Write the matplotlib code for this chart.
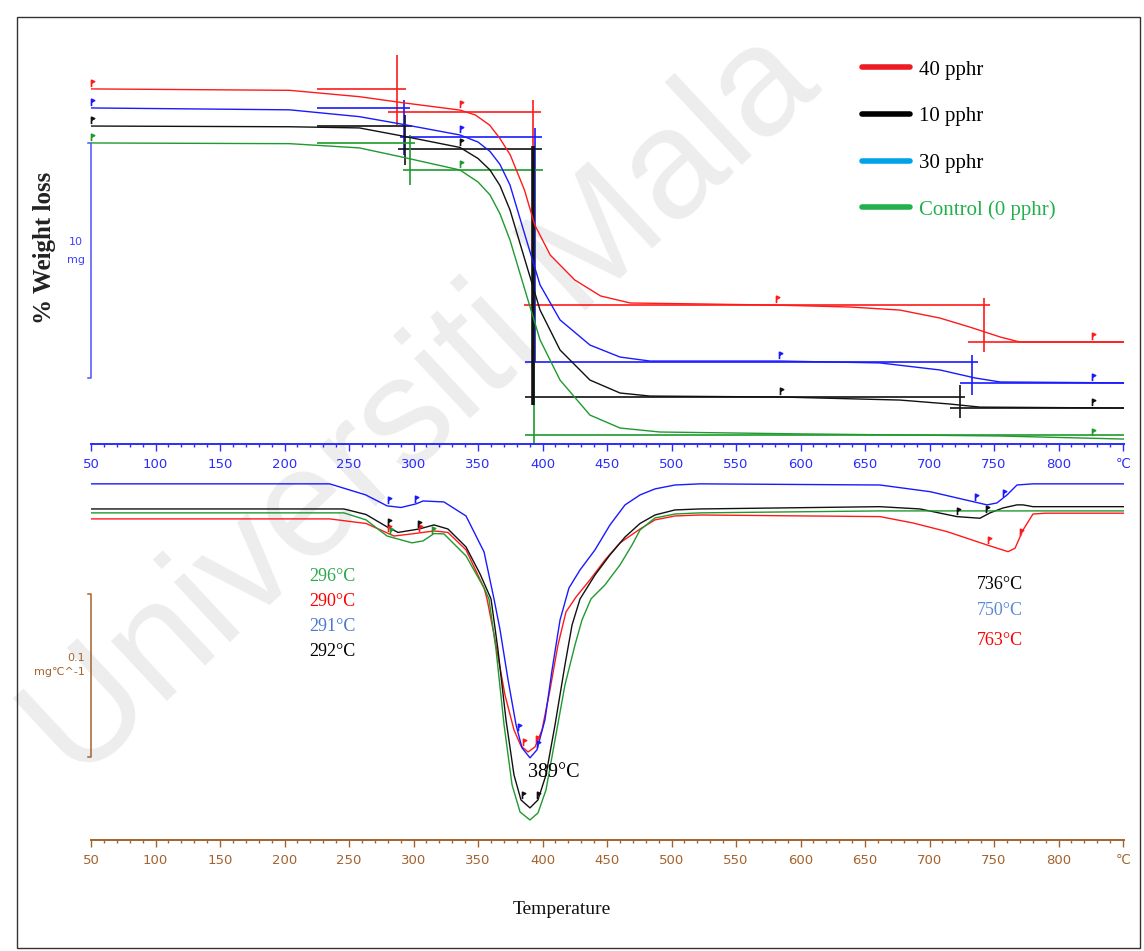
import numpy as np
import matplotlib
matplotlib.use("Agg")
import matplotlib.pyplot as plt
from matplotlib.path import Path
from matplotlib.lines import Line2D
from matplotlib.patches import Rectangle
from matplotlib.ticker import MultipleLocator

# ---------------- TGA curves (temperature degC, mass mg) ----------------
red_tga_t = [50, 204, 258, 292, 336, 348, 359, 367, 375, 386, 394, 406, 425, 445, 468, 522, 581, 638, 677, 708, 731, 755, 770, 851]
red_tga_m = [15.11, 15.05, 14.78, 14.52, 14.21, 14.0, 13.57, 13.0, 12.3, 10.81, 9.32, 8.04, 6.98, 6.30, 6.0, 5.96, 5.91, 5.83, 5.70, 5.36, 4.98, 4.55, 4.34, 4.34]

blue_tga_t = [50, 204, 258, 292, 336, 350, 359.3, 367, 374.8, 386.4, 398.1, 413.6, 436.8, 460.1, 483.3, 584.1, 661.6, 708.1, 735.3, 754.7, 851]
blue_tga_m = [14.30, 14.22, 13.93, 13.6, 13.15, 12.85, 12.45, 11.9, 11.02, 8.89, 6.77, 5.28, 4.21, 3.70, 3.53, 3.53, 3.45, 3.15, 2.81, 2.64, 2.60]

black_tga_t = [50, 204, 258, 292, 336, 350, 359.3, 367, 374.8, 386.4, 398.1, 413.6, 436.8, 460.1, 483.3, 584.1, 677.1, 715.9, 739.1, 851]
black_tga_m = [13.53, 13.50, 13.45, 13.1, 12.62, 12.15, 11.66, 11.0, 9.96, 7.83, 5.70, 4.0, 2.72, 2.17, 2.04, 2.0, 1.87, 1.70, 1.57, 1.53]

green_tga_t = [50, 204, 258, 292, 336, 350, 359.3, 367, 374.8, 386.4, 398.1, 413.6, 436.8, 460.1, 491.1, 599.6, 754.7, 851]
green_tga_m = [12.81, 12.78, 12.6, 12.2, 11.66, 11.15, 10.60, 9.8, 8.68, 6.55, 4.43, 2.72, 1.23, 0.68, 0.51, 0.43, 0.34, 0.21]

# onset construction lines: horizontal (T0, T1, level) and vertical (T, m0, m1)
red_h = [(225, 294, 15.11), (280, 399, 14.13), (386, 747, 5.91), (730, 851, 4.34)]
red_v = [(287, 13.57, 16.55), (392.6, 7.6, 14.64), (742, 3.91, 6.21)]
blue_h = [(225, 297, 14.30), (289.5, 399.6, 13.06), (386.4, 737.6, 3.49), (723.6, 851, 2.60)]
blue_v = [(292.6, 12.30, 14.64), (394.2, 3.49, 13.45), (733, 2.09, 3.79)]
black_h = [(225, 299, 13.53), (288, 399.6, 12.55), (386.4, 727.5, 2.0), (715.9, 851, 1.53)]
black_v = [(293.4, 11.87, 14.0), (723.6, 1.11, 2.51)]
black_steep = (392.6, 1.66, 12.7)
green_h = [(225, 301, 12.81), (291.9, 400.4, 11.66), (386.4, 851, 0.38)]
green_v = [(297.3, 11.02, 13.15), (393.4, 0.0, 11.66)]

red_tm = [50, 336, 581, 826]
blue_tm = [50, 336, 583, 826]
black_tm = [50, 336, 584, 826]
green_tm = [50, 336, 826]

# ---------------- DTG curves (temperature degC, mg/degC, offset) ----------------
blue_dtg_t = [50, 235, 263, 279.5, 290.3, 301.9, 307.4, 323.6, 340.7, 354.7, 362.4, 367.1, 373.3, 379.5, 384.1, 390.3, 395.7, 401.9, 407.4, 413.6, 420.5, 429.1, 440.7, 452.3, 464, 475.6, 487.2, 502.7, 522, 661.6, 700.4, 733.7, 744.6, 752.3, 760.1, 767.8, 780, 851]
blue_dtg_v = [0.016, 0.016, 0.0092, 0.0025, 0.0015, 0.0037, 0.0055, 0.0049, -0.0037, -0.0258, -0.0546, -0.0736, -0.1043, -0.1319, -0.146, -0.1521, -0.1472, -0.1288, -0.0982, -0.0675, -0.0479, -0.0368, -0.0245, -0.0092, 0.0031, 0.0092, 0.0129, 0.0153, 0.016, 0.0153, 0.0112, 0.0051, 0.0031, 0.0043, 0.0092, 0.0153, 0.016, 0.016]

black_dtg_t = [50, 246, 263.2, 279.5, 288, 304.3, 315.9, 326.7, 340.7, 351.6, 360.1, 365.5, 371.7, 377.9, 383.3, 390.3, 396.5, 402.7, 409.7, 417.4, 422.9, 429.1, 440.7, 452.3, 464, 475.6, 487.2, 502.7, 522, 661.6, 692.6, 721.3, 739.1, 746.9, 757, 767.8, 772.5, 780.2, 851]
black_dtg_v = [0.0006, 0.0006, -0.0028, -0.0104, -0.0138, -0.0117, -0.0092, -0.0117, -0.0227, -0.0393, -0.0546, -0.0859, -0.1288, -0.1626, -0.1779, -0.1828, -0.1779, -0.1626, -0.1319, -0.0951, -0.0706, -0.0546, -0.0399, -0.0276, -0.0166, -0.0083, -0.0031, 0.0, 0.0006, 0.002, 0.0006, -0.0041, -0.0051, -0.0018, 0.0012, 0.0031, 0.0031, 0.002, 0.002]

green_dtg_t = [50, 246, 263.2, 279.5, 298.8, 307.4, 315.9, 323.6, 340.7, 354.7, 358.5, 364, 370.2, 376.4, 382.6, 390.3, 396.5, 402.7, 409.7, 417.4, 425.2, 430.6, 437.6, 448.4, 460.1, 469.4, 475.6, 487.2, 502.7, 522, 661.6, 851]
green_dtg_v = [-0.0018, -0.0018, -0.0061, -0.016, -0.0202, -0.019, -0.0145, -0.0147, -0.0282, -0.0479, -0.0546, -0.0859, -0.1319, -0.1687, -0.1853, -0.1902, -0.1859, -0.1718, -0.1411, -0.1074, -0.0828, -0.0675, -0.0546, -0.046, -0.0337, -0.0215, -0.0123, -0.0049, -0.0025, -0.0018, -0.0006, -0.0006]

red_dtg_t = [50, 235, 263.2, 284.9, 298.8, 315.9, 326.7, 340.7, 354.7, 357, 363.2, 370.9, 377.9, 383.3, 388.8, 394.2, 399.6, 405.8, 412, 418.2, 426, 436.8, 448.4, 460.1, 475.6, 487.2, 502.7, 522, 661.6, 687.2, 713.6, 744.6, 760.9, 766.3, 772.5, 780.2, 790, 851]
red_dtg_v = [-0.0055, -0.0055, -0.0083, -0.016, -0.0147, -0.0129, -0.0138, -0.0245, -0.0479, -0.0546, -0.0798, -0.1135, -0.135, -0.1448, -0.1485, -0.1454, -0.135, -0.1104, -0.0828, -0.0626, -0.0534, -0.0429, -0.0307, -0.0202, -0.0117, -0.0061, -0.0037, -0.0031, -0.0041, -0.008, -0.0133, -0.0215, -0.0256, -0.0235, -0.0123, -0.0025, -0.002, -0.002]

blue_dm = [280, 301, 381, 395.7, 735, 757]
black_dm = [280, 303.5, 384, 395.7, 721, 744]
red_dm = [280, 304, 385, 395, 745, 770]
green_dm = [282, 314]

legend_labels = ["40 pphr", "10 pphr", "30 pphr", "Control (0 pphr)"]
legend_colors = ["#ed1c24", "#000000", "#00a2e8", "#22b14c"]

RED, BLUE, BLACK, GREEN = "#ff1a1a", "#1a1aff", "#111111", "#1f9a2e"
AX_BLUE, AX_BROWN = "#2b2bff", "#a4622c"

W, H = 1144, 951
fig = plt.figure(figsize=(W / 100, H / 100), dpi=100)


def fx(px):
    return px / W


def fy(py):
    return 1 - py / H


# watermark
fig.text(fx(78), fy(785), "Universiti Mala", rotation=43, rotation_mode="anchor",
         ha="left", va="baseline", fontsize=112, family="Liberation Sans",
         color="#ededed", zorder=-5)

ax1 = fig.add_axes([fx(91), fy(444), fx(1124.3) - fx(91), fy(20) - fy(444)])
ax2 = fig.add_axes([fx(91), fy(840), fx(1124.3) - fx(91), fy(470) - fy(840)])

xt = np.arange(50, 851, 50)
xl = [str(t) for t in xt[:-1]] + ["\u2103"]
for ax, col in ((ax1, AX_BLUE), (ax2, AX_BROWN)):
    ax.set_facecolor("none")
    ax.set_xlim(50, 851)
    for s in ("top", "left", "right"):
        ax.spines[s].set_visible(False)
    ax.spines["bottom"].set_color(col)
    ax.spines["bottom"].set_linewidth(1.4)
    ax.set_yticks([])
    ax.set_xticks(xt)
    ax.set_xticklabels(xl)
    ax.xaxis.set_minor_locator(MultipleLocator(10))
    ax.tick_params(axis="x", which="major", length=5, width=1, color=col,
                   labelcolor=col, labelsize=9.5, pad=5)
    ax.tick_params(axis="x", which="minor", length=2.5, width=1, color=col)

ax1.set_ylim(0, 424 / 23.5)
ax2.set_ylim(-0.2025, 0.0245)

flag = Path([(0, -0.1), (0, 1), (0.5, 0.78), (0, 0.55)],
            [Path.MOVETO, Path.LINETO, Path.LINETO, Path.LINETO])

# ---------------- TGA ----------------
tga = [(red_tga_t, red_tga_m, RED, red_h, red_v, red_tm),
       (blue_tga_t, blue_tga_m, BLUE, blue_h, blue_v, blue_tm),
       (black_tga_t, black_tga_m, BLACK, black_h, black_v, black_tm),
       (green_tga_t, green_tga_m, GREEN, green_h, green_v, green_tm)]
for t, m, c, hs, vs, tm in tga:
    ax1.plot(t, m, color=c, lw=1.0, zorder=3)
    for t0, t1, lv in hs:
        ax1.hlines(lv, t0, t1, color=c, lw=1.2, zorder=2)
    for tv, m0, m1 in vs:
        ax1.vlines(tv, m0, m1, color=c, lw=1.2, zorder=2)
    ax1.plot(tm, np.interp(tm, t, m) + 0.12, ls="none", marker=flag, ms=9,
             color=c, mew=1.2, zorder=4, clip_on=False)
ax1.vlines(black_steep[0], black_steep[1], black_steep[2], color=BLACK, lw=2.6, zorder=2)

# 10 mg scale bar
ax1.plot([47.7, 50, 50, 47.7], [12.81, 12.81, 2.81, 2.81], color="#5050ff", lw=1.1, clip_on=False)
ax1.text(38, 8.2, "10\nmg", color="#4040ff", fontsize=8, ha="center", va="center",
         linespacing=2.0)
fig.text(fx(45), fy(248), "% Weight loss", rotation=90, ha="center", va="center",
         family="Liberation Serif", fontsize=18, fontweight="bold", color="#222222")

# ---------------- DTG ----------------
dtg = [(red_dtg_t, red_dtg_v, RED, red_dm),
       (black_dtg_t, black_dtg_v, BLACK, black_dm),
       (green_dtg_t, green_dtg_v, GREEN, green_dm),
       (blue_dtg_t, blue_dtg_v, BLUE, blue_dm)]
for t, v, c, dm in dtg:
    ax2.plot(t, v, color=c, lw=1.0, zorder=3)
    ax2.plot(dm, np.interp(dm, t, v) + 0.0015, ls="none", marker=flag, ms=9,
             color=c, mew=1.2, zorder=4)

ax2.plot([47.7, 50, 50, 47.7], [-0.0515, -0.0515, -0.1515, -0.1515], color=AX_BROWN,
         lw=1.1, clip_on=False)
ax2.text(45.3, -0.0951, "0.1\nmg\u2103^-1", color=AX_BROWN, fontsize=8, ha="right",
         va="center", multialignment="right", linespacing=1.6)

serif = "Liberation Serif"
peak_left = ["296\u00b0C", "290\u00b0C", "291\u00b0C", "292\u00b0C"]
peak_left_c = ["#2aa84a", "#ff0000", "#4a78d0", "#000000"]
peak_left_v = [-0.0411, -0.0564, -0.0718, -0.0871]
for s, c, v in zip(peak_left, peak_left_c, peak_left_v):
    ax2.text(236.8, v, s, color=c, fontsize=13, family=serif, ha="center", va="center")

peak_right = ["736\u00b0C", "750\u00b0C", "763\u00b0C"]
peak_right_c = ["#000000", "#5a8ad6", "#ff0000"]
peak_right_v = [-0.046, -0.062, -0.0798]
for s, c, v in zip(peak_right, peak_right_c, peak_right_v):
    ax2.text(754.7, v, s, color=c, fontsize=13, family=serif, ha="center", va="center")

ax2.text(388.8, -0.1613, "389\u00b0C", color="#000000", fontsize=14.5, family=serif,
         ha="left", va="center")

fig.text(fx(562), fy(910), "Temperature", ha="center", va="center", family=serif,
         fontsize=14, color="#111111")

# legend
handles = [Line2D([], [], color=c, lw=4, solid_capstyle="round") for c in legend_colors]
leg = fig.legend(handles, legend_labels, loc="upper left", bbox_to_anchor=(fx(862), fy(60)),
                 frameon=False, prop={"family": serif, "size": 15}, handlelength=2.3,
                 handletextpad=0.45, labelspacing=1.3, borderpad=0, borderaxespad=0)
leg.get_texts()[3].set_color("#22b14c")

fig.add_artist(Rectangle((fx(17), fy(948)), fx(1140) - fx(17), fy(17) - fy(948),
                         transform=fig.transFigure, fill=False, ec="#333333", lw=1))

fig.savefig("out.png", dpi=100)
